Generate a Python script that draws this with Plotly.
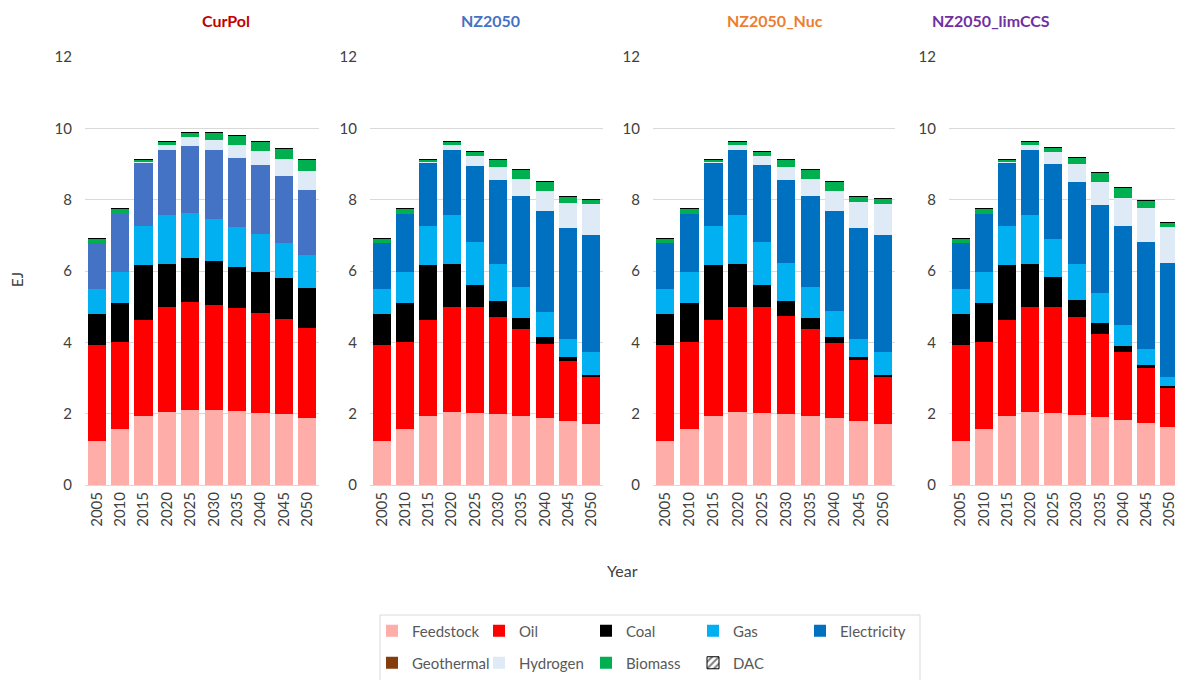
import plotly.graph_objects as go
from plotly.subplots import make_subplots

years = ["2005", "2010", "2015", "2020", "2025", "2030", "2035", "2040", "2045", "2050"]
scenarios = ["CurPol", "NZ2050", "NZ2050_Nuc", "NZ2050_limCCS"]
title_colors = ["#C00000", "#4472C4", "#ED7D31", "#7030A0"]

# EJ per energy carrier (stack segments)
curpol_feedstock = [1.24, 1.56, 1.94, 2.05, 2.09, 2.09, 2.07, 2.03, 1.98, 1.87]
curpol_oil = [2.68, 2.46, 2.70, 2.94, 3.05, 2.97, 2.88, 2.79, 2.67, 2.53]
curpol_coal = [0.87, 1.09, 1.52, 1.22, 1.23, 1.21, 1.17, 1.15, 1.14, 1.11]
curpol_gas = [0.70, 0.86, 1.09, 1.35, 1.25, 1.19, 1.12, 1.07, 1.00, 0.93]
curpol_electricity = [1.30, 1.62, 1.78, 1.84, 1.88, 1.92, 1.94, 1.92, 1.88, 1.83]
curpol_hydrogen = [0, 0, 0.02, 0.14, 0.25, 0.30, 0.34, 0.41, 0.47, 0.53]
curpol_biomass = [0.11, 0.17, 0.09, 0.10, 0.12, 0.21, 0.28, 0.27, 0.30, 0.32]

nz_feedstock = [1.24, 1.56, 1.94, 2.05, 2.01, 1.99, 1.94, 1.87, 1.79, 1.70]
nz_oil = [2.68, 2.46, 2.70, 2.94, 2.99, 2.73, 2.43, 2.09, 1.70, 1.33]
nz_coal = [0.87, 1.09, 1.52, 1.22, 0.61, 0.43, 0.30, 0.20, 0.10, 0.05]
nz_gas = [0.70, 0.86, 1.09, 1.35, 1.20, 1.06, 0.88, 0.70, 0.50, 0.64]
nz_electricity = [1.30, 1.62, 1.78, 1.84, 2.13, 2.34, 2.55, 2.82, 3.11, 3.30]
nz_hydrogen = [0, 0, 0.02, 0.14, 0.28, 0.37, 0.47, 0.57, 0.72, 0.86]
nz_biomass = [0.11, 0.17, 0.09, 0.10, 0.13, 0.20, 0.27, 0.25, 0.17, 0.12]

nuc_feedstock = [1.24, 1.56, 1.94, 2.05, 2.01, 1.98, 1.94, 1.88, 1.79, 1.72]
nuc_oil = [2.68, 2.46, 2.70, 2.94, 2.98, 2.76, 2.43, 2.09, 1.71, 1.31]
nuc_coal = [0.87, 1.09, 1.52, 1.22, 0.63, 0.41, 0.30, 0.18, 0.09, 0.05]
nuc_gas = [0.70, 0.86, 1.09, 1.35, 1.20, 1.07, 0.88, 0.73, 0.50, 0.65]
nuc_electricity = [1.30, 1.62, 1.78, 1.84, 2.15, 2.34, 2.55, 2.81, 3.11, 3.28]
nuc_hydrogen = [0, 0, 0.02, 0.14, 0.26, 0.36, 0.47, 0.55, 0.73, 0.88]
nuc_biomass = [0.11, 0.17, 0.09, 0.10, 0.12, 0.20, 0.27, 0.28, 0.16, 0.13]

lim_feedstock = [1.24, 1.56, 1.94, 2.05, 2.03, 1.97, 1.90, 1.83, 1.74, 1.64]
lim_oil = [2.68, 2.46, 2.70, 2.94, 2.97, 2.73, 2.34, 1.90, 1.54, 1.08]
lim_coal = [0.87, 1.09, 1.52, 1.22, 0.83, 0.50, 0.31, 0.16, 0.09, 0.05]
lim_gas = [0.70, 0.86, 1.09, 1.35, 1.08, 0.99, 0.83, 0.61, 0.44, 0.26]
lim_electricity = [1.30, 1.62, 1.78, 1.84, 2.10, 2.31, 2.48, 2.76, 2.99, 3.19]
lim_hydrogen = [0, 0, 0.02, 0.14, 0.32, 0.50, 0.64, 0.78, 0.97, 1.02]
lim_biomass = [0.11, 0.17, 0.09, 0.10, 0.12, 0.17, 0.27, 0.29, 0.22, 0.13]

geothermal = [0] * 10
dac = [0] * 10

data = [
    [curpol_feedstock, curpol_oil, curpol_coal, curpol_gas, curpol_electricity, geothermal, curpol_hydrogen, curpol_biomass, dac],
    [nz_feedstock, nz_oil, nz_coal, nz_gas, nz_electricity, geothermal, nz_hydrogen, nz_biomass, dac],
    [nuc_feedstock, nuc_oil, nuc_coal, nuc_gas, nuc_electricity, geothermal, nuc_hydrogen, nuc_biomass, dac],
    [lim_feedstock, lim_oil, lim_coal, lim_gas, lim_electricity, geothermal, lim_hydrogen, lim_biomass, dac],
]

carriers = ["Feedstock", "Oil", "Coal", "Gas", "Electricity", "Geothermal", "Hydrogen", "Biomass", "DAC"]
colors = ["#FFADA8", "#FF0000", "#000000", "#00B0F0", "#0070C0", "#843C0C", "#DEEBF7", "#00B050", "#FFFFFF"]
curpol_elec_color = "#4472C4"

W, H = 1183, 680
OFF = 8  # page body margin, so figure px = screen px - OFF


def px_x(v):
    return (v - OFF) / W


def px_y(v):
    return (H - (v - OFF)) / H


# plot area edges in screen pixels (left, right), and title centres
panels_px = [(85, 319), (370, 603), (653, 895), (949, 1181)]
title_x = [200, 490, 775, 1052]
y_bottom, y_top = 485, 57

fig = make_subplots(rows=1, cols=4)

for i, scen in enumerate(scenarios):
    for j, name in enumerate(carriers):
        color = colors[j]
        if i == 0 and name == "Electricity":
            color = curpol_elec_color
        marker = dict(color=color, line=dict(width=0))
        if name == "DAC":
            marker = dict(color="white", line=dict(color="black", width=1),
                          pattern=dict(shape="/", fgcolor="black", bgcolor="white", size=6, solidity=0.4))
        fig.add_trace(go.Bar(
            x=years, y=data[i][j], name=name, marker=marker,
            legendgroup=name, showlegend=(i == 1),
            legend="legend" if j < 5 else "legend2",
            hovertemplate=scen + " %{x}<br>" + name + ": %{y:.2f} EJ<extra></extra>",
        ), row=1, col=i + 1)

tick_font = dict(family="Lato, sans-serif", size=15, color="#404040")
for i in range(4):
    l, r = panels_px[i]
    xa = "xaxis" if i == 0 else f"xaxis{i + 1}"
    ya = "yaxis" if i == 0 else f"yaxis{i + 1}"
    fig.layout[xa].update(domain=[px_x(l), px_x(r)], type="category", tickangle=-90,
                          showgrid=False, showline=True, linecolor="#D9D9D9",
                          tickfont=tick_font, ticks="")
    fig.layout[ya].update(domain=[px_y(y_bottom), px_y(y_top)], range=[0, 12],
                          dtick=2, showgrid=True, gridcolor="#D9D9D9", gridwidth=1,
                          zeroline=False, showline=False, tickfont=tick_font,
                          ticklabelstandoff=12)
    fig.add_annotation(text="<b>" + scenarios[i] + "</b>", x=px_x(title_x[i]), y=px_y(20),
                       xref="paper", yref="paper", showarrow=False, yanchor="middle",
                       font=dict(family="Lato, sans-serif", size=16, color=title_colors[i]))

fig.add_annotation(text="Year", x=px_x(622), y=px_y(570), xref="paper", yref="paper",
                   showarrow=False, yanchor="middle",
                   font=dict(family="Lato, sans-serif", size=16, color="#404040"))
fig.add_annotation(text="EJ", x=px_x(17), y=px_y(280), xref="paper", yref="paper",
                   showarrow=False, textangle=-90, xanchor="center", yanchor="middle",
                   font=dict(family="Lato, sans-serif", size=15, color="#404040"))

# legend frame
fig.add_shape(type="rect", xref="paper", yref="paper", x0=px_x(380), x1=px_x(920),
              y0=-0.02, y1=px_y(615), line=dict(color="#D9D9D9", width=1), fillcolor="rgba(0,0,0,0)")

legend_style = dict(orientation="h", xanchor="left", yanchor="middle", x=px_x(372),
                    entrywidth=62, entrywidthmode="pixels", bgcolor="rgba(0,0,0,0)",
                    font=dict(family="Lato, sans-serif", size=15, color="#595959"),
                    itemclick=False, itemdoubleclick=False)

fig.update_layout(
    width=W, height=H, barmode="stack", bargap=0.23,
    paper_bgcolor="white", plot_bgcolor="white",
    margin=dict(l=0, r=0, t=0, b=0, autoexpand=False),
    legend=dict(legend_style, y=px_y(631)),
    legend2=dict(legend_style, y=px_y(663)),
    font=dict(family="Lato, sans-serif"),
)

fig.write_html("out.html")
